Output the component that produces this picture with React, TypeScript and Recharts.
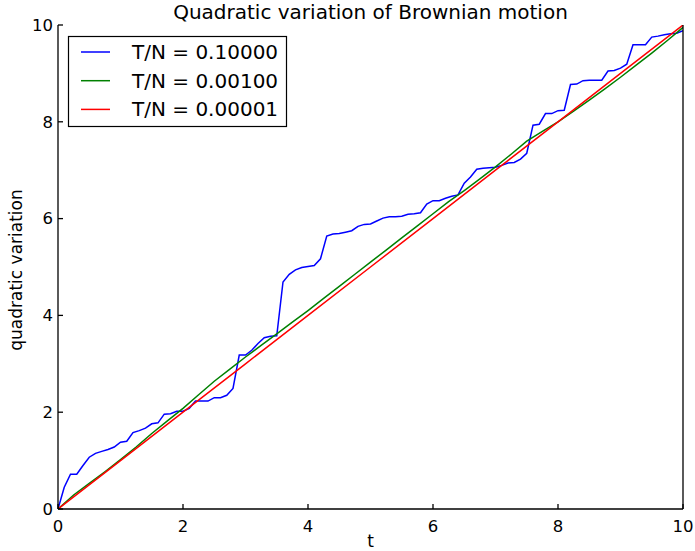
import React from "react";
import { Line, LineChart, XAxis, YAxis } from "recharts";

const BLUE_STEP = 0.1;
const blueValues = [
  0, 0.45, 0.72, 0.72, 0.9, 1.07, 1.15, 1.19, 1.23, 1.28,
  1.38, 1.4, 1.58, 1.62, 1.67, 1.76, 1.78, 1.96, 1.97, 2.02,
  2.02, 2.08, 2.23, 2.23, 2.23, 2.3, 2.3, 2.35, 2.49, 3.18,
  3.18, 3.28, 3.42, 3.54, 3.57, 3.58, 4.69, 4.85, 4.94, 4.99,
  5.01, 5.03, 5.17, 5.64, 5.68, 5.69, 5.72, 5.75, 5.84, 5.88,
  5.89, 5.95, 6.01, 6.04, 6.04, 6.05, 6.09, 6.1, 6.12, 6.3,
  6.37, 6.37, 6.42, 6.46, 6.49, 6.73, 6.86, 7.02, 7.04, 7.05,
  7.06, 7.1, 7.15, 7.16, 7.23, 7.35, 7.93, 7.95, 8.17, 8.17,
  8.23, 8.24, 8.77, 8.78, 8.85, 8.86, 8.86, 8.86, 9.05, 9.06,
  9.11, 9.19, 9.59, 9.59, 9.59, 9.75, 9.77, 9.8, 9.82, 9.83,
  9.88,
];

const GREEN_STEP = 0.25;
const greenValues = [
  0, 0.29, 0.53, 0.77, 1.02, 1.28, 1.56, 1.82, 2.08, 2.36,
  2.64, 2.89, 3.14, 3.38, 3.62, 3.86, 4.1, 4.35, 4.6, 4.85,
  5.1, 5.35, 5.6, 5.85, 6.1, 6.35, 6.58, 6.82, 7.07, 7.33,
  7.6, 7.8, 8.0, 8.22, 8.45, 8.68, 8.92, 9.17, 9.42, 9.68,
  9.95,
];

const RED_STEP = 1;
const redValues = [0, 1, 2, 3, 4, 5, 6, 7, 8, 9, 10];

const ticks = [0, 2, 4, 6, 8, 10];

const series = [
  { name: "T/N = 0.10000", color: "#0000ff", step: BLUE_STEP, values: blueValues },
  { name: "T/N = 0.00100", color: "#008000", step: GREEN_STEP, values: greenValues },
  { name: "T/N = 0.00001", color: "#ff0000", step: RED_STEP, values: redValues },
];

const toPoints = (step: number, values: number[]) =>
  values.map((v, i) => ({ t: +(i * step).toFixed(2), v }));

const FONT = "DejaVu Sans";
const tickStyle = { fontSize: 16.5, fill: "#000", fontFamily: FONT };
const axisLine = { stroke: "#000", strokeWidth: 1.3 };

export default function App() {
  return (
    <div style={{ position: "absolute", left: 0, top: 0, width: 695, height: 551, background: "#fff" }}>
      <LineChart width={695} height={551} margin={{ top: 25, right: 0, bottom: 0, left: 0 }}>
        <XAxis
          xAxisId={0}
          type="number"
          dataKey="t"
          domain={[0, 10]}
          ticks={ticks}
          height={42}
          tickSize={-5}
          tickMargin={16}
          tick={tickStyle}
          axisLine={axisLine}
          tickLine={axisLine}
          allowDataOverflow
        />
        <XAxis
          xAxisId="top"
          orientation="top"
          type="number"
          dataKey="t"
          domain={[0, 10]}
          ticks={ticks}
          height={0}
          tickSize={-5}
          tick={false}
          axisLine={axisLine}
          tickLine={axisLine}
        />
        <YAxis
          yAxisId={0}
          type="number"
          domain={[0, 10]}
          ticks={ticks}
          width={58}
          tickSize={-5}
          tickMargin={10}
          tick={tickStyle}
          axisLine={axisLine}
          tickLine={axisLine}
          allowDataOverflow
        />
        <YAxis
          yAxisId="right"
          orientation="right"
          type="number"
          domain={[0, 10]}
          ticks={ticks}
          width={12}
          tickSize={-5}
          tick={false}
          axisLine={axisLine}
          tickLine={axisLine}
        />
        {series.map((s) => (
          <Line
            key={s.name}
            xAxisId={0}
            yAxisId={0}
            data={toPoints(s.step, s.values)}
            dataKey="v"
            type="linear"
            stroke={s.color}
            strokeWidth={1.5}
            dot={false}
            isAnimationActive={false}
          />
        ))}
      </LineChart>

      <svg
        width={695}
        height={551}
        style={{ position: "absolute", left: 0, top: 0, pointerEvents: "none" }}
        fontFamily={FONT}
      >
        <text x={370.5} y={18.5} textAnchor="middle" fontSize={20}>
          Quadratic variation of Brownian motion
        </text>
        <text x={370.5} y={547} textAnchor="middle" fontSize={17}>
          t
        </text>
        <text transform="translate(22,270) rotate(-90)" textAnchor="middle" fontSize={17}>
          quadratic variation
        </text>
        <rect x={68.5} y={36.5} width={218} height={90} fill="#fff" stroke="#000" strokeWidth={1.2} />
        {series.map((s, i) => (
          <g key={s.name}>
            <line x1={81} x2={110} y1={52 + i * 28.7} y2={52 + i * 28.7} stroke={s.color} strokeWidth={1.5} />
            <text x={132} y={59 + i * 28.7} fontSize={20}>
              {s.name}
            </text>
          </g>
        ))}
      </svg>
    </div>
  );
}
